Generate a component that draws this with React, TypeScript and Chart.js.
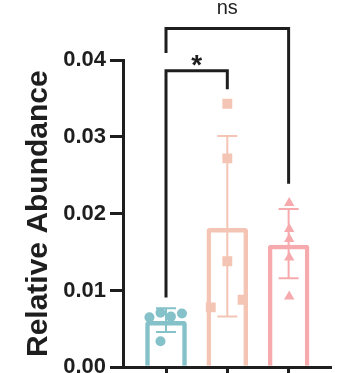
import React, { useEffect, useRef } from 'react';
import { Chart, registerables } from 'chart.js';

Chart.register(...registerables);

// ---- data ----
const groups = ['Group 1', 'Group 2', 'Group 3'];
const barValues = [0.006, 0.0181, 0.0159];
const errorHigh = [0.0077, 0.0301, 0.0206];
const errorLow = [0.0046, 0.0066, 0.0116];

const group1Points = [0.0065, 0.0071, 0.0066, 0.007, 0.0034];
const group1Jitter = [-0.27, -0.09, 0.08, 0.26, -0.09];
const group2Points = [0.0343, 0.0272, 0.0138, 0.0078, 0.0088];
const group2Jitter = [0, 0, 0, -0.27, 0.25];
const group3Points = [0.0214, 0.018, 0.0167, 0.0143, 0.0092];
const group3Jitter = [0.01, 0.01, 0.01, 0.01, 0.01];

const yTickStep = 0.01;
const yMin = 0;
const yMax = 0.04;
const yLabel = 'Relative Abundance';

// significance brackets
const bracketFrom = [0, 0];
const bracketTo = [1, 2];
const bracketY = [0.0386, 0.0441];
const bracketLeftEnd = [0.0091, 0.0409];
const bracketRightEnd = [0.0362, 0.0239];
const bracketLabels = ['*', 'ns'];
const bracketLabelY = [0.0399, 0.0467];

// ---- styles ----
const INK = '#1e1e1e';
const groupColors = ['#84c1c9', '#f4c5b5', '#f7aaae'];
const FONT = '"Liberation Sans", Arial, Helvetica, sans-serif';

const errorBarPlugin = {
  id: 'errorBars',
  afterDatasetDraw(chart: any, args: any) {
    if (args.index !== 0) return;
    const { ctx } = chart;
    const x = chart.scales.x;
    const y = chart.scales.y;
    ctx.save();
    ctx.lineWidth = 2;
    ctx.lineCap = 'butt';
    groups.forEach((_, i) => {
      const cx = x.getPixelForValue(i);
      const top = y.getPixelForValue(errorHigh[i]);
      const bot = y.getPixelForValue(errorLow[i]);
      ctx.strokeStyle = groupColors[i];
      ctx.beginPath();
      ctx.moveTo(cx, top);
      ctx.lineTo(cx, bot);
      ctx.moveTo(cx - 10, top);
      ctx.lineTo(cx + 10, top);
      ctx.moveTo(cx - 10, bot);
      ctx.lineTo(cx + 10, bot);
      ctx.stroke();
    });
    ctx.restore();
  },
};

const bracketPlugin = {
  id: 'sigBrackets',
  afterDraw(chart: any) {
    const { ctx } = chart;
    const x = chart.scales.x;
    const y = chart.scales.y;
    ctx.save();
    ctx.strokeStyle = INK;
    ctx.fillStyle = INK;
    ctx.lineWidth = 3;
    ctx.lineCap = 'butt';
    ctx.lineJoin = 'miter';
    bracketLabels.forEach((label, i) => {
      const x1 = x.getPixelForValue(bracketFrom[i]);
      const x2 = x.getPixelForValue(bracketTo[i]);
      const yt = y.getPixelForValue(bracketY[i]);
      ctx.beginPath();
      ctx.moveTo(x1, y.getPixelForValue(bracketLeftEnd[i]));
      ctx.lineTo(x1, yt);
      ctx.lineTo(x2, yt);
      ctx.lineTo(x2, y.getPixelForValue(bracketRightEnd[i]));
      ctx.stroke();
      ctx.font = label === '*' ? `bold 28px ${FONT}` : `20px ${FONT}`;
      ctx.textAlign = 'center';
      ctx.textBaseline = 'alphabetic';
      const m = ctx.measureText(label);
      const cx = (x1 + x2) / 2;
      const cy = y.getPixelForValue(bracketLabelY[i]);
      ctx.fillText(label, cx, cy + (m.actualBoundingBoxAscent - m.actualBoundingBoxDescent) / 2);
    });
    ctx.restore();
  },
};

const pts = (vals: number[], jit: number[], gi: number) =>
  vals.map((v, k) => ({ x: gi + jit[k], y: v }));

export default function App() {
  const ref = useRef<HTMLCanvasElement>(null);

  useEffect(() => {
    if (!ref.current) return;
    const chart = new Chart(ref.current, {
      type: 'bar',
      data: {
        datasets: [
          {
            type: 'bar',
            label: 'Mean',
            data: barValues.map((v, i) => ({ x: i, y: v })),
            backgroundColor: '#ffffff',
            borderColor: groupColors,
            borderWidth: 4.5,
            borderRadius: 3,
            borderSkipped: 'start',
            barThickness: 41,
            order: 3,
          } as any,
          {
            type: 'scatter',
            label: groups[0],
            data: pts(group1Points, group1Jitter, 0),
            pointStyle: 'circle',
            pointRadius: 5,
            backgroundColor: groupColors[0],
            borderWidth: 0,
            order: 1,
          } as any,
          {
            type: 'scatter',
            label: groups[1],
            data: pts(group2Points, group2Jitter, 1),
            pointStyle: 'rect',
            pointRadius: 7,
            backgroundColor: groupColors[1],
            borderWidth: 0,
            order: 1,
          } as any,
          {
            type: 'scatter',
            label: groups[2],
            data: pts(group3Points, group3Jitter, 2),
            pointStyle: 'triangle',
            pointRadius: 6,
            backgroundColor: groupColors[2],
            borderWidth: 0,
            order: 1,
          } as any,
        ],
      },
      options: {
        responsive: false,
        animation: false,
        layout: { padding: { top: 60, right: 10, left: 0, bottom: 0 } },
        plugins: { legend: { display: false }, tooltip: { enabled: false } },
        scales: {
          x: {
            type: 'linear',
            min: -0.7015,
            max: 2.675,
            offset: false,
            afterBuildTicks: (axis: any) => {
              axis.ticks = groups.map((_, i) => ({ value: i }));
            },
            afterFit: (axis: any) => {
              axis.height = 400 - 367.3;
            },
            ticks: { display: false },
            grid: {
              offset: false,
              drawOnChartArea: false,
              drawTicks: true,
              tickLength: 10,
              color: INK,
              lineWidth: 3,
            },
            border: { display: true, color: INK, width: 3 },
          },
          y: {
            min: yMin,
            max: yMax,
            afterFit: (axis: any) => {
              axis.width = 123;
            },
            ticks: {
              stepSize: yTickStep,
              padding: 4,
              color: INK,
              font: { family: FONT, size: 22, weight: 'bold' },
              callback: (v: any) => Number(v).toFixed(2),
            },
            grid: {
              drawOnChartArea: false,
              drawTicks: true,
              tickLength: 13,
              color: INK,
              lineWidth: 3,
            },
            border: { display: true, color: INK, width: 3 },
            title: {
              display: true,
              text: yLabel,
              color: INK,
              font: { family: FONT, size: 30, weight: 'bold' },
              padding: { top: 21, bottom: 0 },
            },
          },
        },
      } as any,
      plugins: [errorBarPlugin, bracketPlugin],
    });
    return () => chart.destroy();
  }, []);

  return (
    <div
      style={{
        position: 'fixed',
        left: 0,
        top: 0,
        width: 340,
        height: 373,
        overflow: 'hidden',
        background: '#ffffff',
      }}
    >
      <canvas ref={ref} width={340} height={400} style={{ display: 'block' }} />
    </div>
  );
}
